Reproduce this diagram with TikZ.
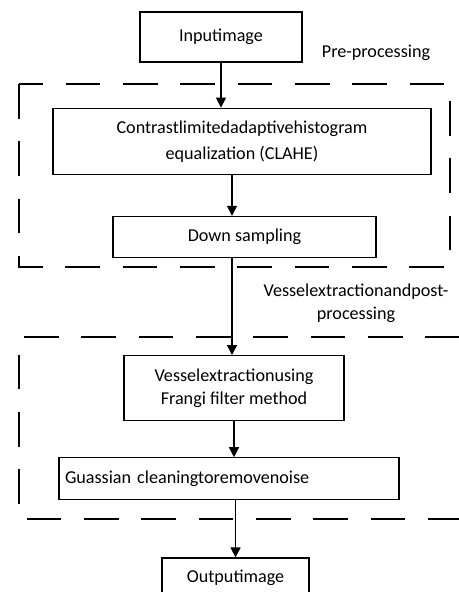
\documentclass[tikz,border=0pt]{standalone}
\usepackage{fontspec}
\setmainfont{Carlito}
\usepackage{tikz}
\usetikzlibrary{arrows.meta, positioning}

\begin{document}
\begin{tikzpicture}[
  x=0.75pt, y=-0.75pt,
  font=\fontsize{13.6}{17}\selectfont,
  box/.style={draw, line width=0.9pt, align=center, inner sep=3pt},
  frame/.style={draw, line width=0.8pt, dash pattern=on 26pt off 17pt},
  stage/.style={align=center, inner sep=0pt},
  arrow/.style={-{Triangle[length=7.5pt, width=7.5pt]}, line width=1.1pt},
]
\useasboundingbox (0,0) rectangle (459,592);

% Pipeline
\node[box, minimum width=121.5pt, minimum height=37.5pt] (input) at (221,37) {Inputimage};
\node[box, minimum width=283.5pt, minimum height=49.5pt, below=33.75pt of input, xshift=15.75pt] (clahe) {Contrastlimitedadaptivehistogram\\[2.5pt]equalization (CLAHE)};
\node[box, minimum width=197.25pt, minimum height=30.75pt, below=30.75pt of clahe, xshift=1.9pt] (down) {Down sampling};
\node[box, minimum width=165pt, minimum height=48.75pt, below=72.75pt of down, xshift=-7.9pt] (vessel) {Vesselextractionusing\\Frangi filter method};
\node[box, minimum width=255pt, text width=246pt, align=left, inner xsep=4.5pt, minimum height=31.5pt, below=27pt of vessel, xshift=-3.75pt] (gauss) {Guassian cleaningtoremovenoise};
\node[box, minimum width=110.25pt, minimum height=29.25pt, below=42.75pt of gauss, xshift=4.9pt] (output) {Outputimage};

% Stage frames
\draw[frame] (19,84) rectangle (450,267);
\draw[frame] (460,337) -- (19,337) -- (19,519) -- (460,519);
\node[stage] (pre) at (376,53) {Pre-processing};
\node[stage] (post) at (356,303) {Vesselextractionandpost-\\processing};

% Arrows
\coordinate (spine) at ([xshift=-9.4pt]down.north);
\draw[arrow] (input) -- (input |- clahe.north);
\draw[arrow] (clahe.south -| spine) -- (spine);
\draw[arrow] (spine |- down.south) -- (spine |- vessel.north);
\draw[arrow] (vessel) -- (vessel |- gauss.north);
\draw[arrow] (output |- gauss.south) -- (output);

\end{tikzpicture}
\end{document}
